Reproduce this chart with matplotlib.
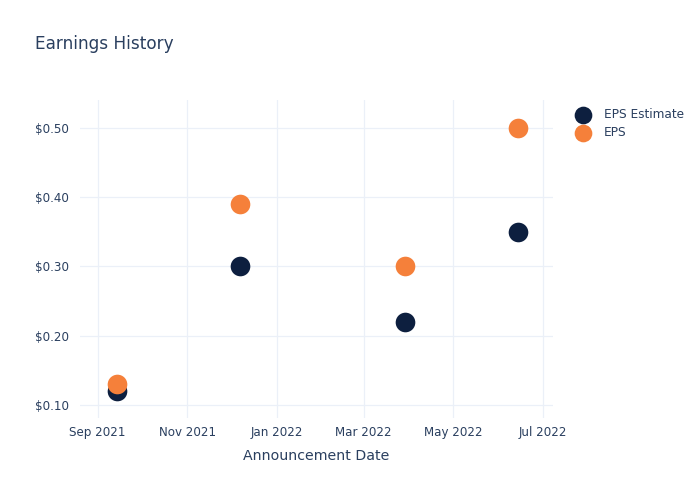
import matplotlib
matplotlib.use("Agg")
import matplotlib.pyplot as plt
import matplotlib.dates as mdates
from matplotlib.ticker import FuncFormatter, MultipleLocator
import pandas as pd

dates = ["2021-09-14", "2021-12-07", "2022-03-29", "2022-06-14"]
eps_estimate = [0.12, 0.30, 0.22, 0.35]
eps_actual = [0.13, 0.39, 0.30, 0.50]
x_ticks = ["2021-09-01", "2021-11-01", "2022-01-01", "2022-03-01", "2022-05-01", "2022-07-01"]

TEXT = "#2a3f5f"
GRID = "#ebf0f8"
NAVY = "#0d1f3f"
ORANGE = "#f5803a"

plt.rcParams['font.family'] = ['DejaVu Sans']

fig = plt.figure(figsize=(7, 5), dpi=100)
ax = fig.add_axes([80/700, (500-418)/500, (553-80)/700, (418-100)/500])

d = pd.to_datetime(dates)
ax.scatter(d, eps_estimate, s=200, color=NAVY, label="EPS Estimate", zorder=3, linewidths=0)
ax.scatter(d, eps_actual, s=200, color=ORANGE, label="EPS", zorder=4, linewidths=0)

ax.set_xlim(pd.Timestamp("2021-08-20"), pd.Timestamp("2022-07-08"))
ax.set_ylim(0.081, 0.54)

xt = pd.to_datetime(x_ticks)
ax.set_xticks(xt)
ax.xaxis.set_major_formatter(mdates.DateFormatter("%b %Y"))
ax.yaxis.set_major_locator(MultipleLocator(0.1))
ax.yaxis.set_major_formatter(FuncFormatter(lambda v, p: f"${v:.2f}"))

for s in ax.spines.values():
    s.set_visible(False)
ax.grid(True, color=GRID, linewidth=0.9)
ax.set_axisbelow(True)
ax.tick_params(length=0, colors=TEXT, labelsize=8.6, pad=6)
ax.tick_params(axis='y', pad=8)

ax.set_xlabel("Announcement Date", color=TEXT, fontsize=10.2, labelpad=7)

fig.text(35/700, 1 - 44/500, "Earnings History", color=TEXT, fontsize=12.2, va="center", ha="left")

leg = fig.legend(loc="upper left", bbox_to_anchor=(565/700, 1 - 102/500), frameon=False,
                 fontsize=8.7, labelcolor=TEXT, handletextpad=0.7, labelspacing=0.4,
                 markerscale=0.9, borderpad=0)

fig.savefig("out.png", dpi=100)
